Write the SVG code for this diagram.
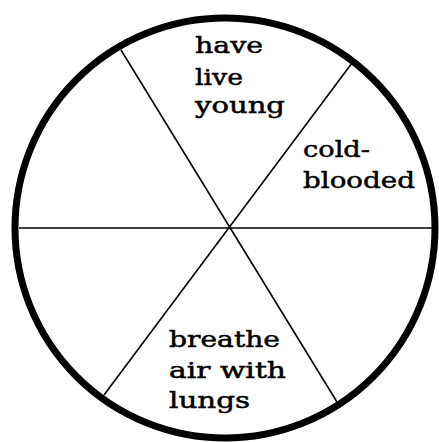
<svg xmlns="http://www.w3.org/2000/svg" width="439" height="442" viewBox="0 0 439 442">
<style>
.rim{fill:#fff;stroke:#000;stroke-width:7}
.spoke{stroke:#000;stroke-width:1.6;fill:none}
.lbl{font-family:"DejaVu Serif","Liberation Serif",serif;font-size:23px;fill:#000;stroke:#000;stroke-width:0.5}
</style>
<rect width="439" height="442" fill="#fff"/>
<g id="wheel">
<circle class="rim" cx="225" cy="228" r="210"/>
</g>
<g id="connectors">
<line class="spoke" x1="19" y1="228" x2="433" y2="228"/>
<line class="spoke" x1="121" y1="50" x2="337" y2="402"/>
<line class="spoke" x1="352" y1="63" x2="104" y2="395"/>
</g>
<g id="top-sector">
<text class="lbl" x="195" y="53" textLength="68" lengthAdjust="spacingAndGlyphs">have</text>
<text class="lbl" x="195" y="85" textLength="48" lengthAdjust="spacingAndGlyphs">live</text>
<text class="lbl" x="195" y="113" textLength="90" lengthAdjust="spacingAndGlyphs">young</text>
</g>
<g id="right-top-sector">
<text class="lbl" x="303" y="157" textLength="67" lengthAdjust="spacingAndGlyphs">cold-</text>
<text class="lbl" x="303" y="188" textLength="112" lengthAdjust="spacingAndGlyphs">blooded</text>
</g>
<g id="bottom-sector">
<text class="lbl" x="169" y="347" textLength="111" lengthAdjust="spacingAndGlyphs">breathe</text>
<text class="lbl" x="169" y="378" textLength="117" lengthAdjust="spacingAndGlyphs">air with</text>
<text class="lbl" x="169" y="408" textLength="81" lengthAdjust="spacingAndGlyphs">lungs</text>
</g>
</svg>
